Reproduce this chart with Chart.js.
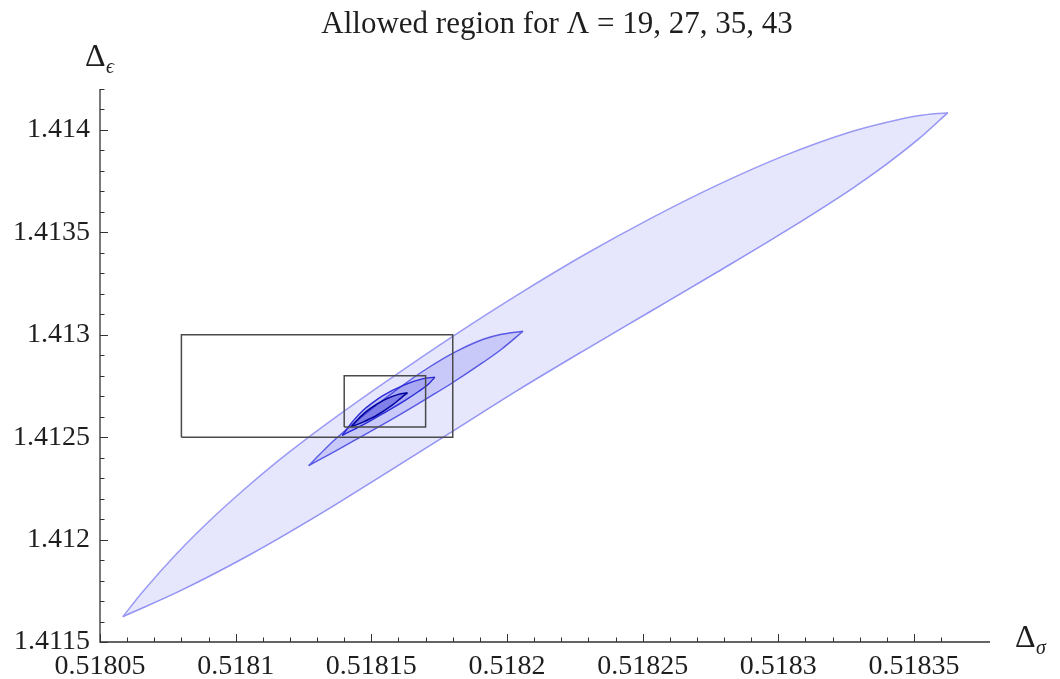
<!DOCTYPE html>
<html>
<head>
<meta charset="utf-8">
<script src="https://cdn.jsdelivr.net/npm/chart.js@4.4.1/dist/chart.umd.min.js"></script>
<style>
  html, body { margin: 0; padding: 0; background: #fff; }
</style>
</head>
<body>
<canvas id="chart" width="1060" height="679"></canvas>
<script>
// allowed regions, [Δσ, Δε] along the upper and lower edge of each island
const lam19Upper = [
  [0.5180584, 1.4116235], [0.5180659, 1.4117476], [0.5180784, 1.4119336],
  [0.5180906, 1.4120948], [0.5181028, 1.4122412], [0.5181153, 1.4123809],
  [0.5181249, 1.41248], [0.5181397, 1.4126246], [0.5181522, 1.4127422],
  [0.5181644, 1.4128536], [0.518181, 1.413001], [0.5182039, 1.4131949],
  [0.5182282, 1.4133883], [0.518253, 1.4135684], [0.5182777, 1.413732],
  [0.518302, 1.4138736], [0.5183268, 1.4139913], [0.5183397, 1.4140367],
  [0.5183515, 1.4140694], [0.5183625, 1.4140846],
];
const lam19Lower = [
  [0.5180584, 1.4116235], [0.5180795, 1.4117495], [0.5181054, 1.4119273],
  [0.5181312, 1.4121255], [0.5181544, 1.4123164], [0.5181792, 1.4125225],
  [0.5182039, 1.4127286], [0.5182282, 1.4129219], [0.518253, 1.4131148],
  [0.5182777, 1.4133077], [0.518302, 1.4135011], [0.5183268, 1.4137105],
  [0.5183389, 1.4138233], [0.5183515, 1.4139537], [0.5183625, 1.4140846],
];
const lam27Upper = [
  [0.5181269, 1.4123609], [0.5181312, 1.412419], [0.518136, 1.412481],
  [0.5181459, 1.4125943], [0.5181589, 1.4127276], [0.518171, 1.4128389],
  [0.518181, 1.4129166], [0.5181913, 1.4129781], [0.5181976, 1.4130015],
  [0.5182059, 1.4130172],
];
const lam27Lower = [
  [0.5181269, 1.4123609], [0.5181349, 1.412419], [0.5181441, 1.4124864],
  [0.5181607, 1.4126114], [0.518171, 1.4126934], [0.5181792, 1.4127598],
  [0.5181913, 1.4128663], [0.5181976, 1.4129258], [0.5182059, 1.4130172],
];
const lam35Upper = [
  [0.5181393, 1.4125088], [0.518143, 1.4125747], [0.5181467, 1.4126284],
  [0.5181504, 1.4126675], [0.5181541, 1.4127017], [0.5181622, 1.4127554],
  [0.5181688, 1.4127848], [0.5181734, 1.4127931],
];
const lam35Lower = [
  [0.5181393, 1.4125088], [0.5181467, 1.4125591], [0.5181504, 1.412586],
  [0.5181563, 1.4126304], [0.5181626, 1.4126812], [0.5181674, 1.4127232],
  [0.518171, 1.4127584], [0.5181734, 1.4127931],
];
const lam43Upper = [
  [0.5181426, 1.4125503], [0.5181459, 1.4125991], [0.5181496, 1.4126406],
  [0.5181552, 1.4126846], [0.51816, 1.412709], [0.5181633, 1.4127164],
];
const lam43Lower = [
  [0.5181426, 1.4125503], [0.5181467, 1.4125723], [0.5181519, 1.412606],
  [0.5181578, 1.4126573], [0.5181611, 1.4126934], [0.5181633, 1.4127164],
];

// the two boxes
const bigBoxX = [0.51808, 0.51818];
const bigBoxY = [1.4125, 1.413];
const smallBoxX = [0.51814, 0.51817];
const smallBoxY = [1.41255, 1.4128];

// axis ranges and ticks
const xRange = [0.51805, 0.518378];
const yRange = [1.4115, 1.4142];
const xMinorStep = 0.00001, xMajorStep = 0.00005;
const yMinorStep = 0.0001, yMajorStep = 0.0005;
const titleText = "Allowed region for \u039B = 19, 27, 35, 43";

const SERIF = "'Liberation Serif', 'DejaVu Serif', serif";
const AXIS = "#333";

const pts = (arr) => arr.map(([x, y]) => ({ x, y }));
const box = (xs, ys) => pts([
  [xs[0], ys[0]], [xs[1], ys[0]], [xs[1], ys[1]], [xs[0], ys[1]], [xs[0], ys[0]],
]);
const onStep = (v, step, tol) => Math.abs(v / step - Math.round(v / step)) < tol;
const fmt = (v) => String(parseFloat(v.toFixed(6)));

function edge(data, color, width, fill, bg) {
  return {
    data: pts(data),
    borderColor: color,
    borderWidth: width,
    backgroundColor: bg || "transparent",
    fill: fill,
    pointRadius: 0,
    cubicInterpolationMode: "monotone",
  };
}
function rect(data) {
  return {
    data: data,
    borderColor: "#4a4a4a",
    borderWidth: 1.5,
    fill: false,
    pointRadius: 0,
    tension: 0,
  };
}

// axes, inward ticks, title and axis labels
const decor = {
  id: "decor",
  afterDraw(chart) {
    const { ctx, chartArea: a, scales } = chart;
    const xs = scales.x, ys = scales.y;
    ctx.save();
    ctx.strokeStyle = AXIS;
    ctx.lineWidth = 1.3;
    ctx.beginPath();
    ctx.moveTo(a.left, a.top);
    ctx.lineTo(a.left, a.bottom);
    ctx.lineTo(a.right, a.bottom);
    ctx.stroke();

    ctx.lineWidth = 1;
    ctx.beginPath();
    xs.ticks.forEach((t) => {
      if (!onStep(t.value, xMinorStep, 1e-3)) return;
      const px = Math.round(xs.getPixelForValue(t.value)) + 0.5;
      const len = onStep(t.value, xMajorStep, 1e-3) ? 8 : 4.5;
      ctx.moveTo(px, a.bottom);
      ctx.lineTo(px, a.bottom - len);
    });
    ys.ticks.forEach((t) => {
      if (!onStep(t.value, yMinorStep, 1e-3)) return;
      const py = Math.round(ys.getPixelForValue(t.value)) + 0.5;
      const len = onStep(t.value, yMajorStep, 1e-3) ? 8 : 4.5;
      ctx.moveTo(a.left, py);
      ctx.lineTo(a.left + len, py);
    });
    ctx.stroke();

    ctx.fillStyle = "#1e1e1e";
    ctx.textBaseline = "alphabetic";
    ctx.textAlign = "center";
    ctx.font = "31px " + SERIF;
    ctx.fillText(titleText, 557, 33);

    ctx.textAlign = "left";
    ctx.font = "32px " + SERIF;
    ctx.fillText("\u0394", 85, 66);
    ctx.fillText("\u0394", 1015, 647);
    ctx.font = "italic 20px " + SERIF;
    ctx.fillText("\u03F5", 106, 73);
    ctx.fillText("\u03C3", 1036, 654);
    ctx.restore();
  },
};

new Chart(document.getElementById("chart"), {
  type: "line",
  data: {
    datasets: [
      rect(box(smallBoxX, smallBoxY)),
      rect(box(bigBoxX, bigBoxY)),
      edge(lam43Upper, "#000099", 1.5, "+1", "rgba(20,20,200,0.28)"),
      edge(lam43Lower, "#000099", 1.5, false),
      edge(lam35Upper, "#2a2ad8", 1.4, "+1", "rgba(40,40,220,0.2)"),
      edge(lam35Lower, "#2a2ad8", 1.4, false),
      edge(lam27Upper, "#5a5ae6", 1.4, "+1", "rgba(50,50,230,0.16)"),
      edge(lam27Lower, "#5a5ae6", 1.4, false),
      edge(lam19Upper, "#9a9af5", 1.5, "+1", "rgba(60,60,235,0.13)"),
      edge(lam19Lower, "#9a9af5", 1.5, false),
    ],
  },
  options: {
    responsive: false,
    animation: false,
    devicePixelRatio: 1,
    layout: { padding: { left: 0, right: 70, top: 89, bottom: 0 } },
    plugins: { legend: { display: false }, tooltip: { enabled: false } },
    scales: {
      x: {
        type: "linear",
        min: xRange[0],
        max: xRange[1],
        grid: { display: false, drawTicks: false },
        border: { display: false },
        afterFit: (s) => { s.height = 37; },
        ticks: {
          stepSize: xMinorStep,
          autoSkip: false,
          maxRotation: 0,
          minRotation: 0,
          padding: 8,
          color: "#1e1e1e",
          font: { family: SERIF, size: 28 },
          callback: (v) => (onStep(v, xMajorStep, 1e-3) ? fmt(v) : ""),
        },
      },
      y: {
        type: "linear",
        min: yRange[0],
        max: yRange[1],
        grid: { display: false, drawTicks: false },
        border: { display: false },
        afterFit: (s) => { s.width = 100; },
        ticks: {
          stepSize: yMinorStep,
          autoSkip: false,
          padding: 10,
          color: "#1e1e1e",
          font: { family: SERIF, size: 28 },
          callback: (v) => (onStep(v, yMajorStep, 1e-3) ? fmt(v) : ""),
        },
      },
    },
  },
  plugins: [decor],
});
</script>
</body>
</html>
